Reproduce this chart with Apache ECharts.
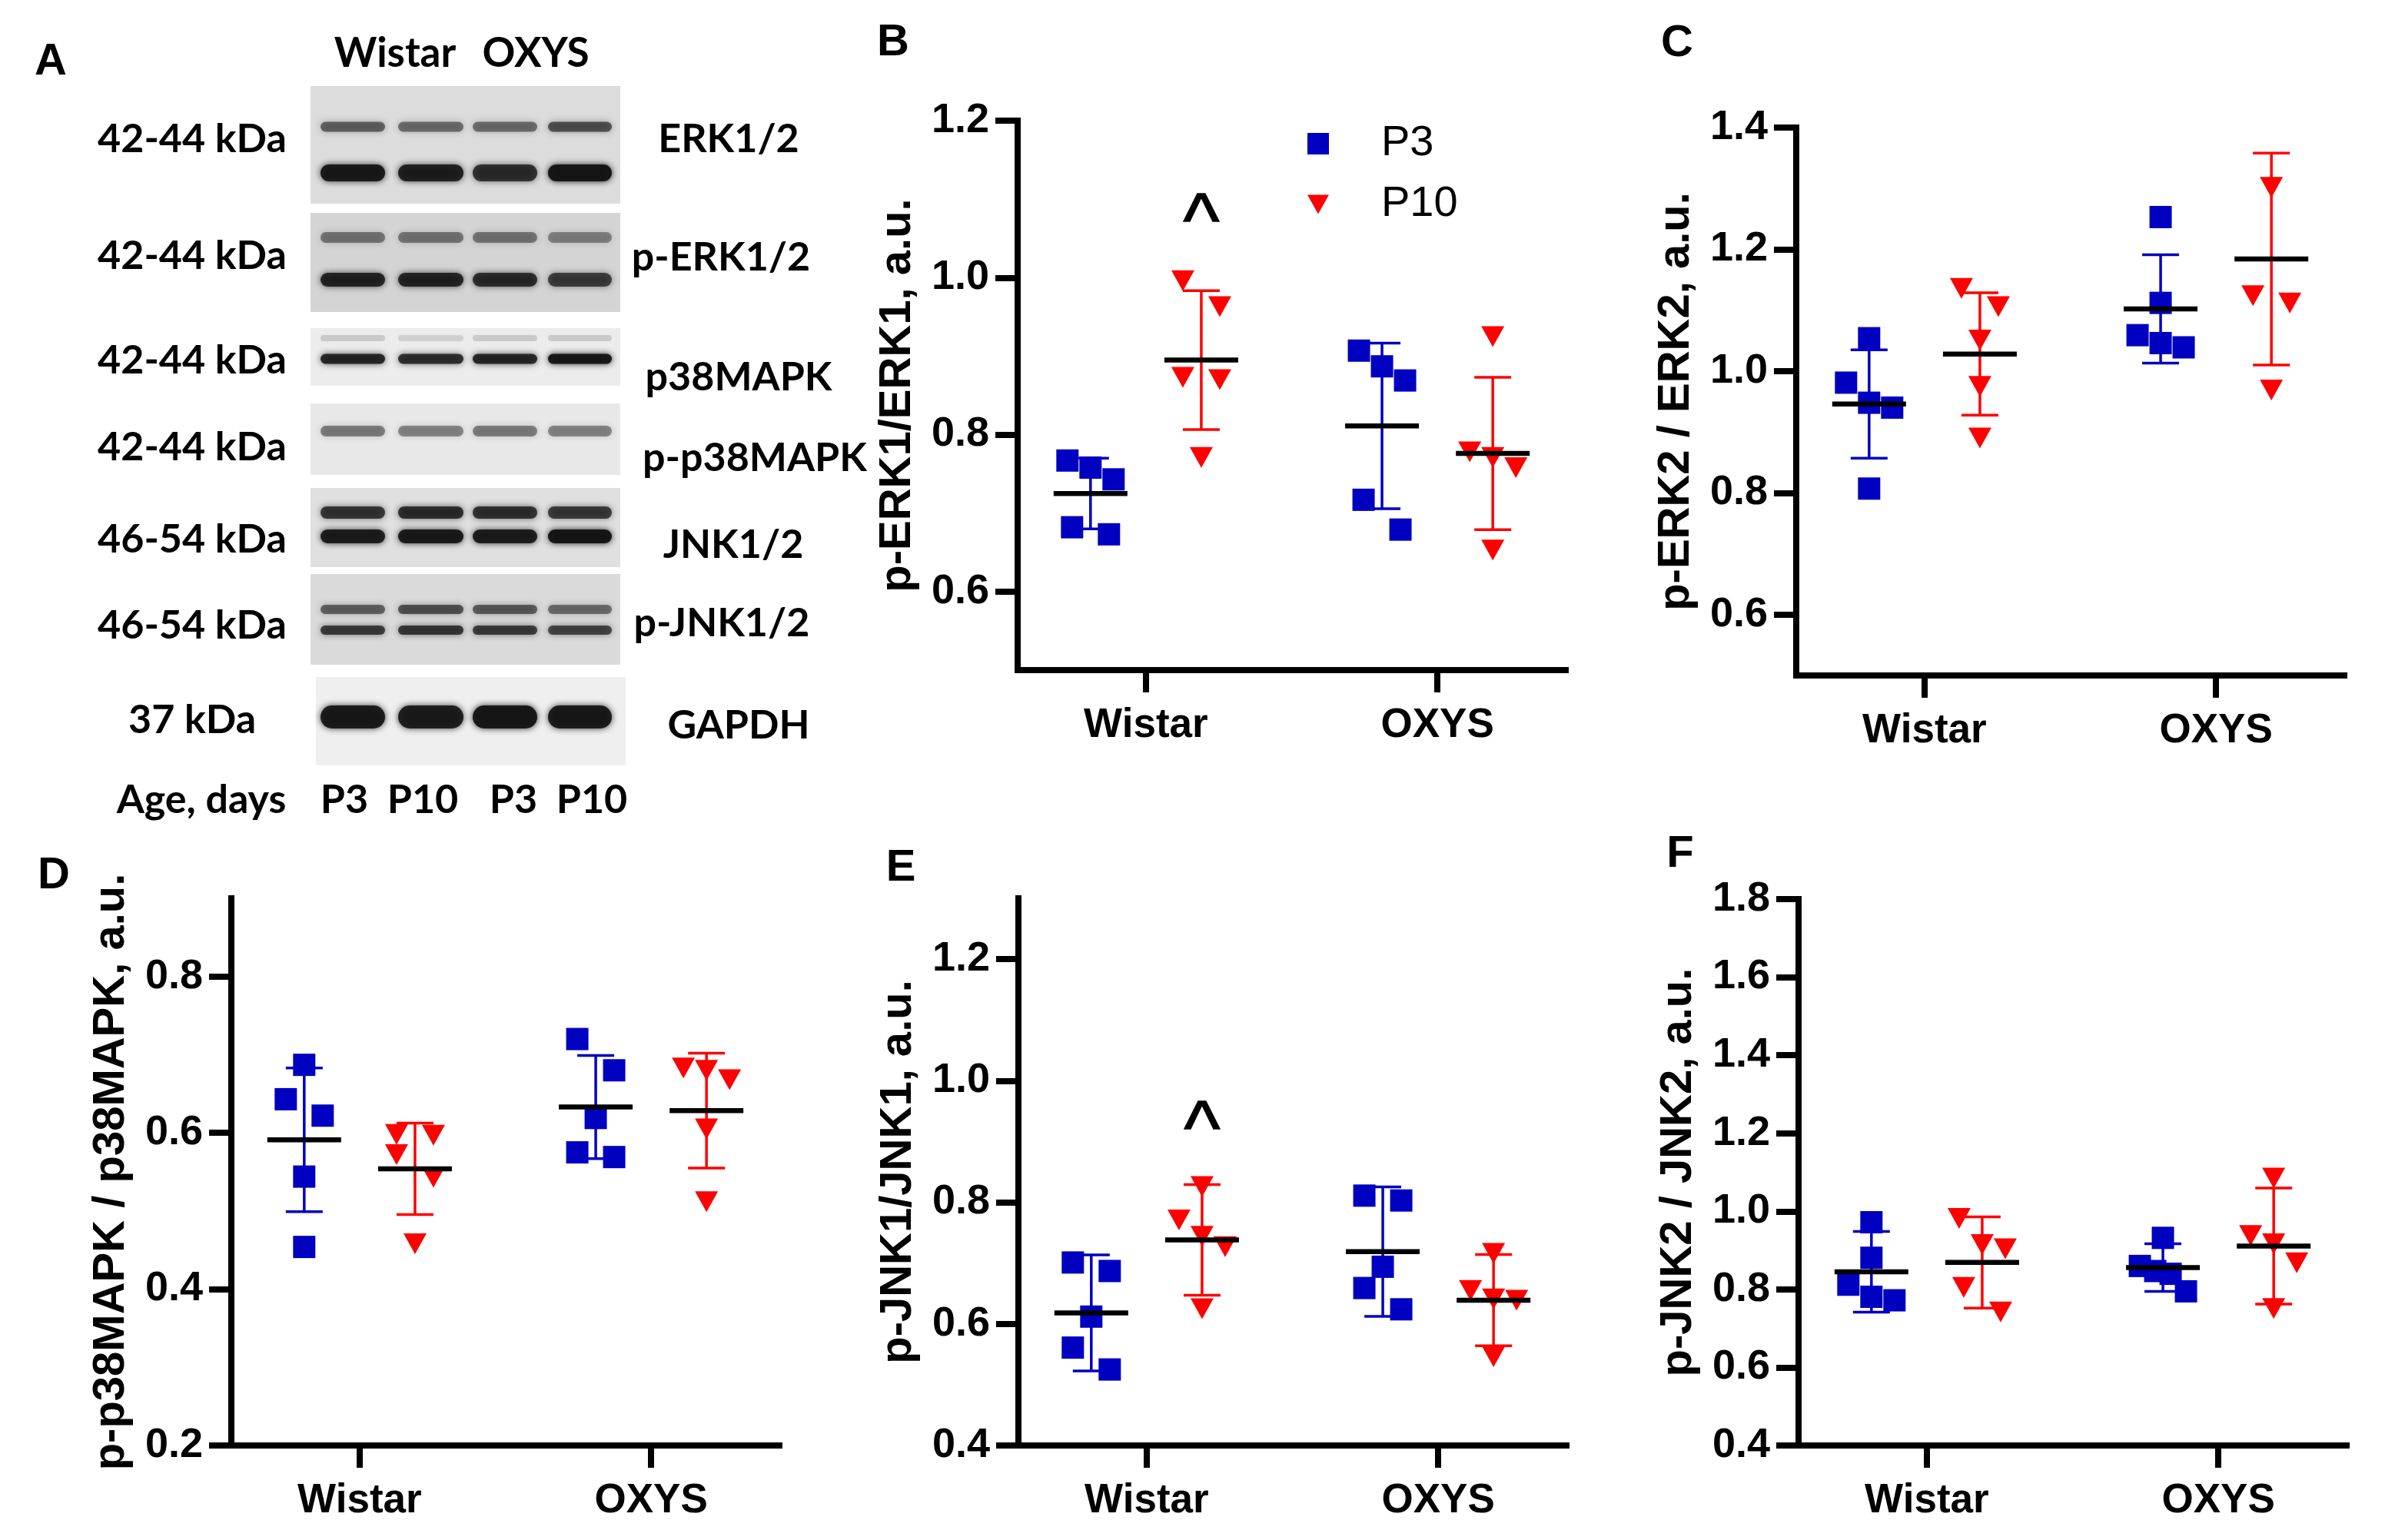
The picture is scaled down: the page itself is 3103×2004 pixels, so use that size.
<!DOCTYPE html>
<html><head><meta charset="utf-8">
<script src="https://cdn.jsdelivr.net/npm/echarts@6/dist/echarts.min.js"></script>
<style>html,body{margin:0;padding:0;background:#fff}#c{width:3103px;height:2004px}</style>
</head><body><div id="c"></div>
<script>
// ---------------- DATA ----------------
const groups = ['Wistar', 'OXYS'];
const ages = ['P3', 'P10'];

// B: p-ERK1/ERK1  (each array: [Wistar values, OXYS values])
const erk1P3 = [[0.767, 0.758, 0.743, 0.682, 0.673], [0.907, 0.887, 0.869, 0.717, 0.679]];
const erk1P10 = [[0.996, 0.963, 0.873, 0.870, 0.771], [0.925, 0.778, 0.771, 0.758, 0.653]];
const erk1P3MeanSd = [[0.725, 0.045], [0.811, 0.1055]];
const erk1P10MeanSd = [[0.895, 0.0885], [0.776, 0.097]];
const erk1Ticks = [0.6, 0.8, 1.0, 1.2];
const erk1Marks = [['Wistar', 'P10', 1.083, '^']];

// C: p-ERK2/ERK2
const erk2P3 = [[1.054, 0.981, 0.948, 0.940, 0.807], [1.253, 1.112, 1.059, 1.046, 1.039]];
const erk2P10 = [[1.136, 1.106, 1.051, 0.975, 0.890], [1.302, 1.124, 1.112, 0.969]];
const erk2P3MeanSd = [[0.946, 0.089], [1.102, 0.089]];
const erk2P10MeanSd = [[1.028, 0.1005], [1.184, 0.174]];
const erk2Ticks = [0.6, 0.8, 1.0, 1.2, 1.4];

// D: p-p38MAPK/p38MAPK
const p38P3 = [[0.687, 0.643, 0.622, 0.544, 0.454], [0.720, 0.680, 0.619, 0.575, 0.569]];
const p38P10 = [[0.598, 0.597, 0.572, 0.543, 0.458], [0.683, 0.680, 0.668, 0.605, 0.512]];
const p38P3MeanSd = [[0.591, 0.092], [0.633, 0.066]];
const p38P10MeanSd = [[0.554, 0.0585], [0.6285, 0.0735]];
const p38Ticks = [0.2, 0.4, 0.6, 0.8];

// E: p-JNK1/JNK1
const jnk1P3 = [[0.701, 0.687, 0.612, 0.561, 0.525], [0.811, 0.803, 0.694, 0.659, 0.624]];
const jnk1P10 = [[0.826, 0.771, 0.744, 0.727, 0.625], [0.716, 0.655, 0.641, 0.639, 0.546]];
const jnk1P3MeanSd = [[0.618, 0.0955], [0.719, 0.1065]];
const jnk1P10MeanSd = [[0.738, 0.091], [0.639, 0.075]];
const jnk1Ticks = [0.4, 0.6, 0.8, 1.0, 1.2];
const jnk1Marks = [['Wistar', 'P10', 0.935, '^']];

// F: p-JNK2/JNK2
const jnk2P3 = [[0.972, 0.881, 0.812, 0.781, 0.772], [0.932, 0.860, 0.847, 0.840, 0.795]];
const jnk2P10 = [[0.982, 0.915, 0.904, 0.805, 0.742], [1.085, 0.938, 0.917, 0.868, 0.751]];
const jnk2P3MeanSd = [[0.845, 0.1035], [0.856, 0.061]];
const jnk2P10MeanSd = [[0.869, 0.117], [0.911, 0.1485]];
const jnk2Ticks = [0.4, 0.6, 0.8, 1.0, 1.2, 1.4, 1.6, 1.8];

// Panel A text
const blotTargets = ['ERK1/2', 'p-ERK1/2', 'p38MAPK', 'p-p38MAPK', 'JNK1/2', 'p-JNK1/2', 'GAPDH'];
const blotWeights = ['42-44 kDa', '42-44 kDa', '42-44 kDa', '42-44 kDa', '46-54 kDa', '46-54 kDa', '37 kDa'];
const laneLabels = ['P3', 'P10', 'P3', 'P10'];

// ---------------- LAYOUT / STYLE ----------------
const FONT = 'Liberation Sans';
const AFONT = 'Lato';
const BLUE = '#0000c0', RED = '#ff0000';
const XMIN = 0.56, XMAX = 2.44;
const groupX = [1, 2];
const ageOffset = [-0.19, 0.19];
const TRI = 'path://M0,0 L10,0 L5,9 Z';

const panels = [
  { name: 'p-ERK1/ERK1, a.u.', p3: erk1P3, p10: erk1P10, ms: [erk1P3MeanSd, erk1P10MeanSd], ticks: erk1Ticks, ymin: 0.5, ymax: 1.2, box: [1324, 157, 713, 715], marks: erk1Marks },
  { name: 'p-ERK2 / ERK2, a.u.', p3: erk2P3, p10: erk2P10, ms: [erk2P3MeanSd, erk2P10MeanSd], ticks: erk2Ticks, ymin: 0.5, ymax: 1.4, box: [2337, 166, 713, 713], marks: [] },
  { name: 'p-p38MAPK / p38MAPK, a.u.', p3: p38P3, p10: p38P10, ms: [p38P3MeanSd, p38P10MeanSd], ticks: p38Ticks, ymin: 0.2, ymax: 0.9, box: [301, 1169, 713, 712], marks: [] },
  { name: 'p-JNK1/JNK1, a.u.', p3: jnk1P3, p10: jnk1P10, ms: [jnk1P3MeanSd, jnk1P10MeanSd], ticks: jnk1Ticks, ymin: 0.4, ymax: 1.3, box: [1325, 1169, 713, 712], marks: jnk1Marks },
  { name: 'p-JNK2 / JNK2, a.u.', p3: jnk2P3, p10: jnk2P10, ms: [jnk2P3MeanSd, jnk2P10MeanSd], ticks: jnk2Ticks, ymin: 0.4, ymax: 1.8, box: [2340, 1170, 713, 711], marks: [] }
];

// beeswarm-like horizontal spreading (in px), GraphPad style
function spread(vals, pxPerY) {
  const idx = vals.map((v, i) => i).sort((a, b) => vals[a] - vals[b]);
  const off = new Array(vals.length).fill(0);
  let k = 0;
  while (k < idx.length) {
    let j = k + 1;
    while (j < idx.length && (vals[idx[j]] - vals[idx[k]]) * pxPerY < 42) j++;
    const cl = idx.slice(k, j).sort((a, b) => vals[b] - vals[a]);
    const n = cl.length;
    cl.forEach((id, m) => {
      off[id] = n === 1 ? 0 : (n === 2 ? (m === 0 ? -24 : 24) : -30 + 60 * m / (n - 1));
    });
    k = j;
  }
  return off;
}

const grid = [], xAxis = [], yAxis = [], series = [];
const axisLineStyle = { color: '#000', width: 8, cap: 'square' };
const tickStyle = { color: '#000', width: 8 };

panels.forEach((p, i) => {
  const [l, t, w, h] = p.box;
  grid.push({ left: l, top: t, width: w, height: h });
  xAxis.push({
    gridIndex: i, type: 'value', min: XMIN, max: XMAX,
    axisLine: { show: true, onZero: false, lineStyle: axisLineStyle },
    axisTick: { show: true, customValues: groupX, length: 29, lineStyle: tickStyle },
    axisLabel: { customValues: groupX, formatter: v => groups[Math.round(v) - 1], fontSize: 53, fontWeight: 'bold', color: '#000', fontFamily: FONT, margin: 46 },
    splitLine: { show: false }
  });
  yAxis.push({
    gridIndex: i, type: 'value', min: p.ymin, max: p.ymax,
    name: p.name, nameLocation: 'middle', nameGap: 127, nameRotate: 90,
    nameTextStyle: { fontSize: 58, fontWeight: 'bold', color: '#000', fontFamily: FONT },
    axisLine: { show: true, onZero: false, lineStyle: axisLineStyle },
    axisTick: { show: true, customValues: p.ticks, length: 29, lineStyle: tickStyle },
    axisLabel: { customValues: p.ticks, formatter: v => v.toFixed(1), fontSize: 54, fontWeight: 'bold', color: '#000', fontFamily: FONT, margin: 37 },
    splitLine: { show: false }
  });
  const pxX = w / (XMAX - XMIN), pxY = h / (p.ymax - p.ymin);

  // error bars (SD)
  const ebData = [];
  [0, 1].forEach(a => groups.forEach((g, gi) => {
    ebData.push([groupX[gi] + ageOffset[a], p.ms[a][gi][0], p.ms[a][gi][1], a]);
  }));
  series.push({
    type: 'custom', name: 'sd', xAxisIndex: i, yAxisIndex: i, z: 2, silent: true,
    encode: { x: 0, y: 1 },
    renderItem: (params, api) => {
      const x = api.value(0), m = api.value(1), sd = api.value(2), a = api.value(3);
      const top = api.coord([x, m + sd]), bot = api.coord([x, m - sd]);
      const col = a === 0 ? BLUE : RED;
      const st = { stroke: col, lineWidth: 3.5 };
      return { type: 'group', children: [
        { type: 'line', shape: { x1: top[0], y1: top[1], x2: bot[0], y2: bot[1] }, style: st },
        { type: 'line', shape: { x1: top[0] - 24, y1: top[1], x2: top[0] + 24, y2: top[1] }, style: st },
        { type: 'line', shape: { x1: bot[0] - 24, y1: bot[1], x2: bot[0] + 24, y2: bot[1] }, style: st }
      ] };
    },
    data: ebData
  });

  // points
  [p.p3, p.p10].forEach((arr, a) => {
    const pts = [];
    arr.forEach((vals, gi) => {
      const off = spread(vals, pxY);
      vals.forEach((v, k) => pts.push([groupX[gi] + ageOffset[a] + off[k] / pxX, v]));
    });
    series.push({
      type: 'scatter', name: ages[a], xAxisIndex: i, yAxisIndex: i, z: 3,
      symbol: a === 0 ? 'rect' : TRI, symbolSize: a === 0 ? 29 : [30, 27],
      itemStyle: { color: a === 0 ? BLUE : RED, opacity: 1 },
      data: pts
    });
  });

  // mean lines
  series.push({
    type: 'custom', name: 'mean', xAxisIndex: i, yAxisIndex: i, z: 4, silent: true,
    encode: { x: 0, y: 1 },
    renderItem: (params, api) => {
      const c = api.coord([api.value(0), api.value(1)]);
      return { type: 'line', shape: { x1: c[0] - 48, y1: c[1], x2: c[0] + 48, y2: c[1] }, style: { stroke: '#000', lineWidth: 6.5 } };
    },
    data: ebData.map(d => [d[0], d[1]])
  });

  // significance marks
  if (p.marks.length) {
    series.push({
      type: 'custom', name: 'mark', xAxisIndex: i, yAxisIndex: i, z: 5, silent: true,
      encode: { x: 0, y: 1 },
      renderItem: (params, api) => {
        const c = api.coord([api.value(0), api.value(1)]);
        return { type: 'text', x: c[0], y: c[1] + 17, style: { text: p.marks[params.dataIndex][3], fontSize: 100, fontFamily: FONT, fill: '#000', align: 'center', verticalAlign: 'middle', stroke: '#000', lineWidth: 1.5 } };
      },
      data: p.marks.map(m => [groupX[groups.indexOf(m[0])] + ageOffset[ages.indexOf(m[1])], m[2]])
    });
  }
});

// ---------------- PANEL A (western blot drawing) ----------------
const graphic = [];
const lanes = [[413, 505], [514, 607], [611, 703], [709, 800]];
const blotRows = [
  { y0: 112, y1: 265, bg: '#dcdcdc', bands: [{ y: 165, h: 13, a: [0.55, 0.5, 0.5, 0.62] }, { y: 225, h: 22, a: [0.92, 0.88, 0.78, 0.97] }] },
  { y0: 277, y1: 406, bg: '#d4d4d4', bands: [{ y: 309, h: 14, a: [0.45, 0.45, 0.45, 0.4] }, { y: 364, h: 18, a: [0.85, 0.85, 0.8, 0.7] }] },
  { y0: 427, y1: 502, bg: '#ececec', bands: [{ y: 440, h: 8, a: [0.15, 0.12, 0.15, 0.15] }, { y: 467, h: 13, a: [0.85, 0.8, 0.85, 0.95] }] },
  { y0: 525, y1: 618, bg: '#e8e8e8', bands: [{ y: 561, h: 14, a: [0.45, 0.42, 0.45, 0.42] }] },
  { y0: 635, y1: 738, bg: '#e0e0e0', bands: [{ y: 667, h: 16, a: [0.75, 0.8, 0.78, 0.72] }, { y: 698, h: 18, a: [0.9, 0.92, 0.9, 0.97] }] },
  { y0: 747, y1: 865, bg: '#dadada', bands: [{ y: 793, h: 12, a: [0.55, 0.62, 0.58, 0.5] }, { y: 820, h: 12, a: [0.72, 0.75, 0.72, 0.68] }] },
  { y0: 881, y1: 996, bg: '#efefef', bands: [{ y: 933, h: 30, a: [0.92, 0.9, 0.95, 0.92] }] }
];
const labelY = [181, 333, 469, 582, 702, 814, 937];
const rightX = [948, 938, 961, 982, 954, 939, 961];
const rightY = [181, 335, 491, 596, 709, 811, 944];
blotRows.forEach((r, ri) => {
  const x0 = ri === 6 ? 411 : 404, x1 = ri === 6 ? 814 : 807;
  graphic.push({ type: 'rect', shape: { x: x0, y: r.y0, width: x1 - x0, height: r.y1 - r.y0 }, style: { fill: r.bg }, silent: true });
  r.bands.forEach(b => {
    lanes.forEach((ln, li) => {
      const col = 'rgba(20,20,20,' + b.a[li] + ')';
      graphic.push({ type: 'rect', shape: { x: ln[0] + 4, y: b.y - b.h / 2, width: ln[1] - ln[0] - 8, height: b.h, r: b.h / 2 },
        style: { fill: col, shadowBlur: 9, shadowColor: col }, silent: true });
    });
  });
  graphic.push({ type: 'text', x: 250, y: labelY[ri], style: { text: blotWeights[ri], fontSize: 52, fontWeight: 'bold', fontFamily: AFONT, fill: '#000', align: 'center', verticalAlign: 'middle' }, silent: true });
  graphic.push({ type: 'text', x: rightX[ri], y: rightY[ri], style: { text: blotTargets[ri], fontSize: 52, fontWeight: 'bold', fontFamily: AFONT, fill: '#000', align: 'center', verticalAlign: 'middle' }, silent: true });
});
graphic.push({ type: 'text', x: 514, y: 70, style: { text: groups[0], fontSize: 53, fontWeight: 'bold', fontFamily: AFONT, fill: '#000', align: 'center', verticalAlign: 'middle' } });
graphic.push({ type: 'text', x: 697, y: 70, style: { text: groups[1], fontSize: 53, fontWeight: 'bold', fontFamily: AFONT, fill: '#000', align: 'center', verticalAlign: 'middle' } });
graphic.push({ type: 'text', x: 262, y: 1041, style: { text: 'Age, days', fontSize: 52, fontWeight: 'bold', fontFamily: AFONT, fill: '#000', align: 'center', verticalAlign: 'middle' } });
[448, 550, 668, 770].forEach((x, k) => graphic.push({ type: 'text', x: x, y: 1041, style: { text: laneLabels[k], fontSize: 52, fontWeight: 'bold', fontFamily: AFONT, fill: '#000', align: 'center', verticalAlign: 'middle' } }));

// panel letters
[['A', 66, 81], ['B', 1162, 56], ['C', 2182, 57], ['D', 70, 1140], ['E', 1172, 1130], ['F', 2186, 1112]].forEach(L => {
  graphic.push({ type: 'text', x: L[1], y: L[2], style: { text: L[0], fontSize: 58, fontWeight: 'bold', fontFamily: FONT, fill: '#000', align: 'center', verticalAlign: 'middle' } });
});

const chart = echarts.init(document.getElementById('c'), null, { renderer: 'canvas' });
chart.setOption({
  animation: false,
  backgroundColor: '#fff',
  grid, xAxis, yAxis, series, graphic,
  legend: {
    orient: 'vertical', left: 1696, top: 154, itemWidth: 28, itemHeight: 28, itemGap: 23,
    data: [{ name: 'P3', icon: 'rect' }, { name: 'P10', icon: TRI }],
    textStyle: { fontSize: 56, color: '#000', fontFamily: FONT, padding: [0, 0, 0, 63] },
    selectedMode: false
  }
});
</script></body></html>
